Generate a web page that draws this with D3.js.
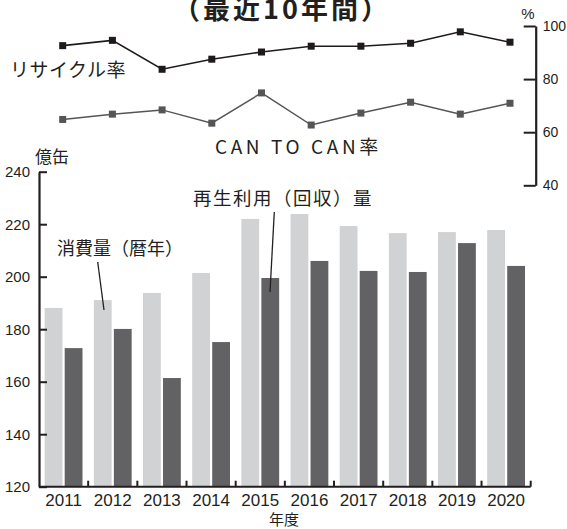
<!DOCTYPE html>
<html lang="ja">
<head>
<meta charset="UTF-8">
<script src="https://d3js.org/d3.v7.min.js"></script>
<style>
  body { margin: 0; background: #fff; }
  text { font-family: "Noto Sans CJK JP", "Liberation Sans", sans-serif; fill: #231f20; }
  .num { font-family: "Liberation Sans", "Noto Sans CJK JP", sans-serif; }
</style>
</head>
<body>
<div id="app"></div>
<script>
const svg_width = 567;
const svg_height = 529;

// data
const years = ['2011', '2012', '2013', '2014', '2015', '2016', '2017', '2018', '2019', '2020'];
const consumption = [188.1, 191.1, 193.8, 201.4, 222.0, 223.9, 219.3, 216.6, 217.0, 217.8];
const recycled = [172.8, 180.1, 161.4, 175.1, 199.5, 206.0, 202.2, 201.8, 212.8, 204.1];
const recycleRate = [92.6, 94.6, 83.7, 87.5, 90.2, 92.4, 92.4, 93.5, 97.8, 93.9];
const canToCan = [64.8, 66.8, 68.4, 63.4, 74.8, 62.7, 67.2, 71.3, 66.8, 70.9];
const barTicks = [120, 140, 160, 180, 200, 220, 240];
const rateTicks = [40, 60, 80, 100];

const ink = '#231f20';
const light = '#d1d2d4';
const dark = '#626264';

const svg = d3.select('#app')
  .append('svg')
  .attr('width', svg_width)
  .attr('height', svg_height);

// scales
const x = d3.scaleBand().domain(years).range([39, 530.7]);
const y = d3.scaleLinear().domain([120, 240]).range([486.7, 171.7]);
const xLine = d3.scalePoint().domain(years).range([62.7, 510]);
const yRate = d3.scaleLinear().domain([40, 100]).range([185.3, 26]);

const barW = 17.8, gap = 2.2;

// title (cut at top, like the source)
svg.append('text')
  .attr('x', 282).attr('y', 19)
  .attr('text-anchor', 'middle')
  .style('font-size', '27px').style('font-weight', 'bold')
  .style('letter-spacing', '3px')
  .text('（最近10年間）');

// bars
svg.selectAll('rect.cons')
  .data(consumption)
  .enter().append('rect')
  .attr('class', 'cons')
  .attr('x', (d, i) => x(years[i]) + x.bandwidth() / 2 - barW - gap / 2)
  .attr('y', d => y(d))
  .attr('width', barW)
  .attr('height', d => y(120) - y(d))
  .attr('fill', light);

svg.selectAll('rect.rec')
  .data(recycled)
  .enter().append('rect')
  .attr('class', 'rec')
  .attr('x', (d, i) => x(years[i]) + x.bandwidth() / 2 + gap / 2)
  .attr('y', d => y(d))
  .attr('width', barW)
  .attr('height', d => y(120) - y(d))
  .attr('fill', dark);

// left axis
const yAxis = svg.append('g')
  .attr('transform', 'translate(' + x.range()[0] + ',0)')
  .call(d3.axisLeft(y).tickValues(barTicks).tickSizeInner(-8).tickSizeOuter(0).tickPadding(9));
yAxis.select('.domain').attr('stroke', ink).attr('stroke-width', 2.2);
yAxis.selectAll('.tick line').attr('stroke', ink).attr('stroke-width', 2);
yAxis.selectAll('.tick text').attr('class', 'num').style('font-size', '15px').attr('fill', ink);

// bottom axis
svg.append('line')
  .attr('x1', x.range()[0]).attr('x2', x.range()[1])
  .attr('y1', y(120)).attr('y2', y(120))
  .attr('stroke', ink).attr('stroke-width', 2);
svg.selectAll('line.xtick')
  .data(years)
  .enter().append('line')
  .attr('class', 'xtick')
  .attr('x1', d => x(d) + x.bandwidth()).attr('x2', d => x(d) + x.bandwidth())
  .attr('y1', y(120)).attr('y2', y(120) - 6)
  .attr('stroke', ink).attr('stroke-width', 2);
svg.selectAll('text.xlab')
  .data(years)
  .enter().append('text')
  .attr('class', 'xlab num')
  .attr('x', d => x(d) + x.bandwidth() / 2)
  .attr('y', 506)
  .attr('text-anchor', 'middle')
  .style('font-size', '17px')
  .text(d => d);

svg.append('text')
  .attr('x', 284).attr('y', 525)
  .attr('text-anchor', 'middle')
  .style('font-size', '15px')
  .text('年度');

svg.append('text')
  .attr('x', 35).attr('y', 163)
  .style('font-size', '17px')
  .text('億缶');

// right axis for rates
const rAxis = svg.append('g')
  .attr('transform', 'translate(535.7,0)')
  .call(d3.axisRight(yRate).tickValues(rateTicks).tickSizeInner(-12).tickSizeOuter(0).tickPadding(7));
rAxis.select('.domain').attr('stroke', ink).attr('stroke-width', 2.2);
rAxis.selectAll('.tick line').attr('stroke', ink).attr('stroke-width', 2);
rAxis.selectAll('.tick text').attr('class', 'num').style('font-size', '14px').attr('fill', ink);

svg.append('text')
  .attr('x', 528).attr('y', 19)
  .attr('text-anchor', 'middle')
  .attr('class', 'num')
  .style('font-size', '15px')
  .text('%');

// rate lines
const line = d3.line()
  .x((d, i) => xLine(years[i]))
  .y(d => yRate(d));

function drawRate(data, color, width) {
  svg.append('path')
    .datum(data)
    .attr('d', line)
    .attr('fill', 'none')
    .attr('stroke', color)
    .attr('stroke-width', width);
  svg.append('g').selectAll('rect')
    .data(data)
    .enter().append('rect')
    .attr('x', (d, i) => xLine(years[i]) - 3.5)
    .attr('y', d => yRate(d) - 3.5)
    .attr('width', 7).attr('height', 7)
    .attr('fill', color);
}
drawRate(canToCan, '#555557', 1.5);
drawRate(recycleRate, '#1e1a1b', 1.6);

svg.append('text')
  .attr('x', 10).attr('y', 77)
  .style('font-size', '19px')
  .style('letter-spacing', '0.5px')
  .text('リサイクル率');

svg.append('text')
  .attr('x', 215).attr('y', 154)
  .style('font-size', '19px')
  .style('letter-spacing', '3.6px')
  .text('CAN TO CAN率');

// bar annotations
svg.append('text')
  .attr('x', 57).attr('y', 255)
  .style('font-size', '18px')
  .text('消費量（暦年）');
svg.append('line')
  .attr('x1', 97.7).attr('y1', 262).attr('x2', 104).attr('y2', 310)
  .attr('stroke', ink).attr('stroke-width', 1.3);

svg.append('text')
  .attr('x', 193).attr('y', 205)
  .style('font-size', '18.5px')
  .style('letter-spacing', '1.5px')
  .text('再生利用（回収）量');
svg.append('line')
  .attr('x1', 274.3).attr('y1', 212).attr('x2', 270).attr('y2', 292)
  .attr('stroke', ink).attr('stroke-width', 1.3);
</script>
</body>
</html>
